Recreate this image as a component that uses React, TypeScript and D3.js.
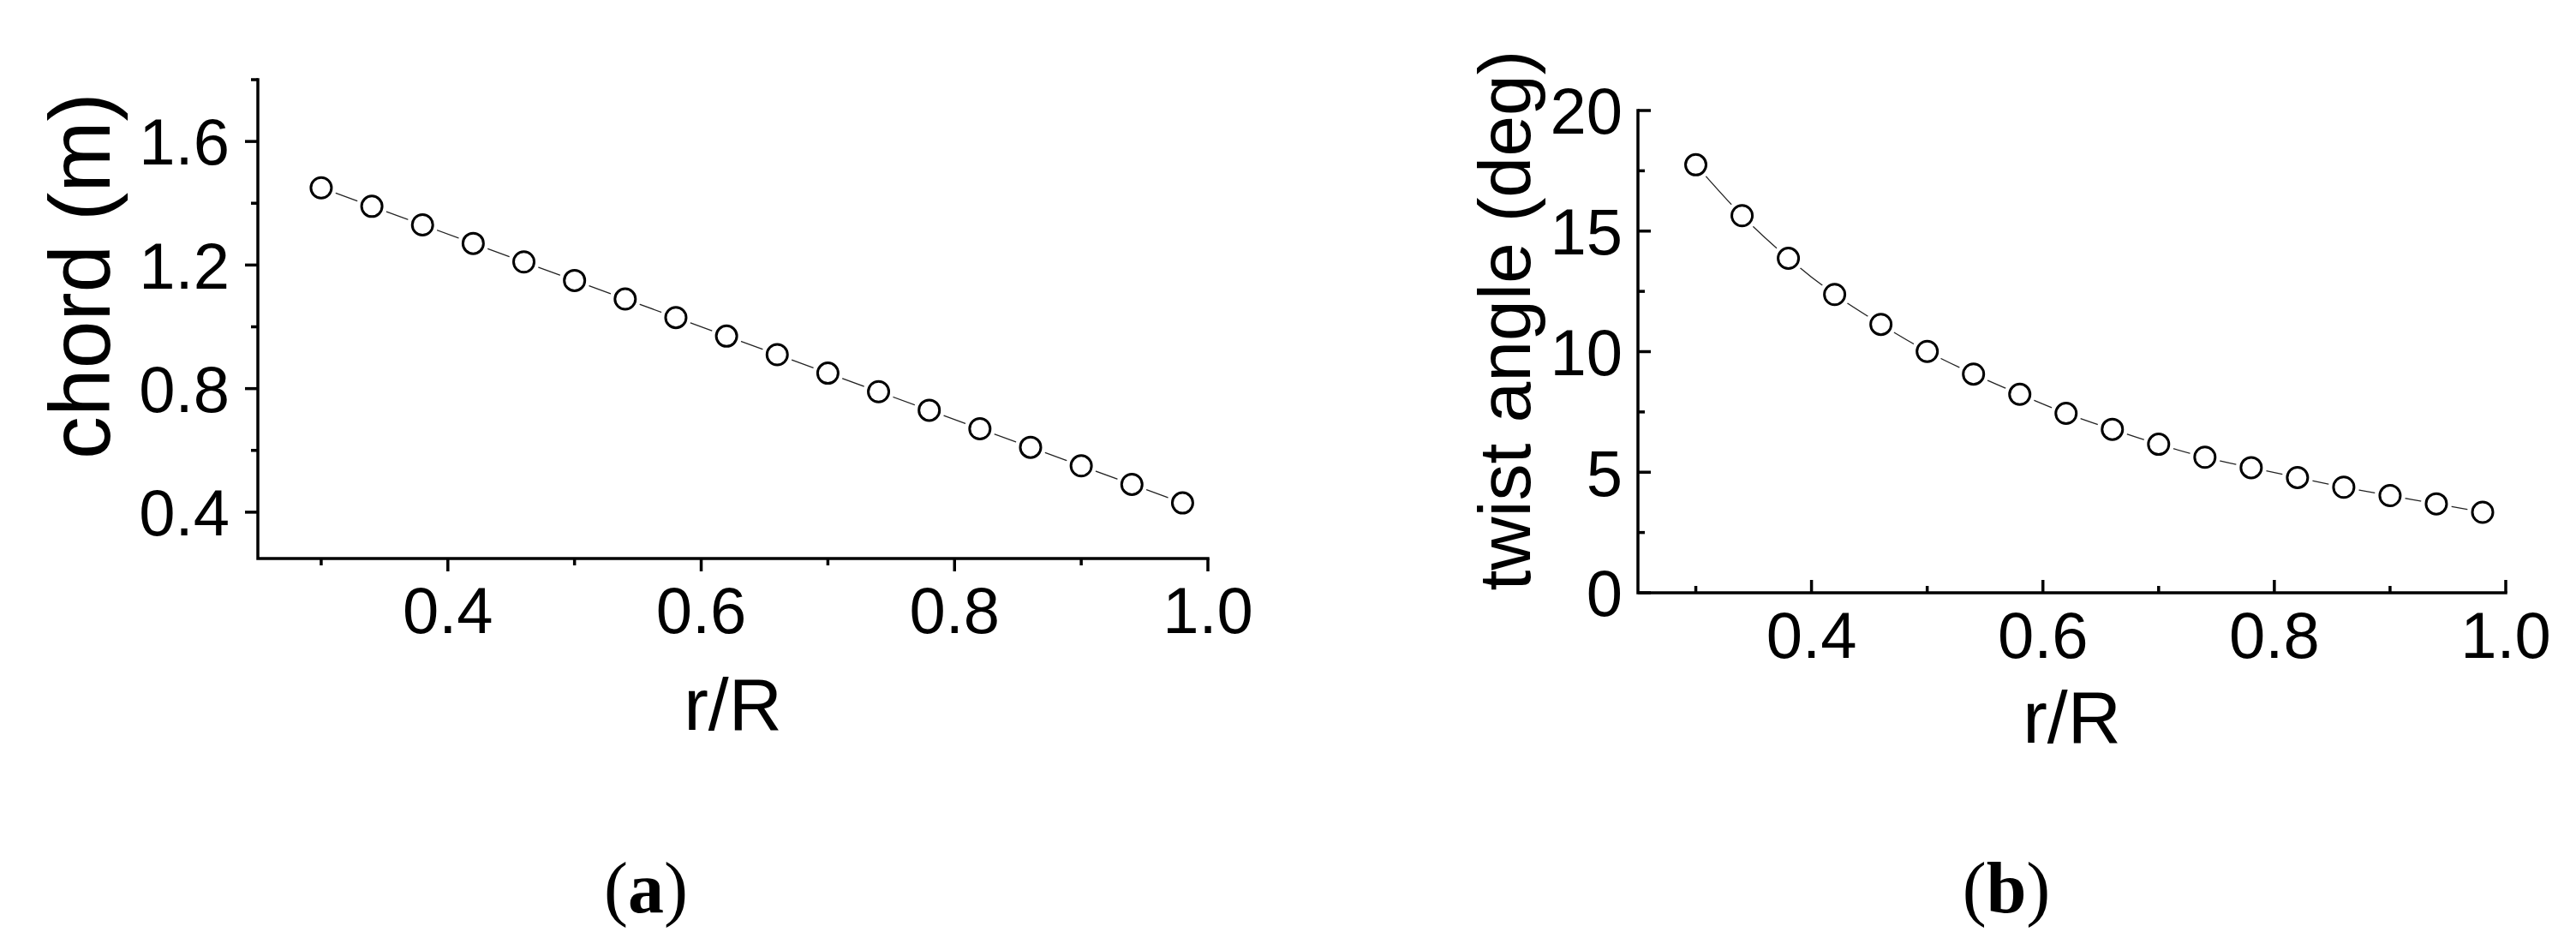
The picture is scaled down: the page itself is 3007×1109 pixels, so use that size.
import { useEffect, useRef } from "react";
import * as d3 from "d3";

// r/R stations shared by both panels
const radius = [0.3, 0.34, 0.38, 0.42, 0.46, 0.5, 0.54, 0.58, 0.62, 0.66, 0.7, 0.74, 0.78, 0.82, 0.86, 0.9, 0.94, 0.98];
const chord = [1.45, 1.39, 1.33, 1.27, 1.21, 1.15, 1.09, 1.03, 0.97, 0.91, 0.85, 0.79, 0.73, 0.67, 0.61, 0.55, 0.49, 0.43];
const twist = [17.75, 15.64, 13.87, 12.37, 11.13, 10.01, 9.07, 8.23, 7.44, 6.78, 6.16, 5.62, 5.19, 4.78, 4.38, 4.03, 3.69, 3.34];

const xMajor = [0.4, 0.6, 0.8, 1.0];
const xMinor = [0.3, 0.5, 0.7, 0.9];
const chordMajor = [0.4, 0.8, 1.2, 1.6];
const chordMinor = [0.6, 1.0, 1.4, 1.8];
const twistMajor = [0, 5, 10, 15, 20];
const twistMinor = [2.5, 7.5, 12.5, 17.5];

const W = 3007;
const H = 1109;
const SANS = "'Liberation Sans', Arial, sans-serif";
const SERIF = "'Liberation Serif', 'Times New Roman', serif";

type Panel = {
  values: number[];
  left: number; right: number; top: number; bottom: number;
  xDomain: [number, number]; yDomain: [number, number];
  yMajor: number[]; yMinor: number[];
  yFormat: (d: number) => string;
  dir: number; // -1 outward ticks, 1 inward
  yTitle: string; yTitleX: number; yTitleY: number; yTitleSize: number;
  xTitleY: number; xLabelBase: number; yLabelRight: number;
  caption: string; captionX: number;
  curve: d3.CurveFactory;
};

const panels: Panel[] = [
  {
    values: chord,
    left: 301, right: 1410, top: 93, bottom: 652,
    xDomain: [0.25, 1.0], yDomain: [0.25, 1.8],
    yMajor: chordMajor, yMinor: chordMinor,
    yFormat: d3.format(".1f"),
    dir: -1,
    yTitle: "chord (m)", yTitleX: 128, yTitleY: 322, yTitleSize: 100,
    xTitleY: 852, xLabelBase: 739, yLabelRight: 268,
    caption: "a", captionX: 754,
    curve: d3.curveLinear,
  },
  {
    values: twist,
    left: 1912, right: 2925, top: 129, bottom: 692,
    xDomain: [0.25, 1.0], yDomain: [0, 20],
    yMajor: twistMajor, yMinor: twistMinor,
    yFormat: d3.format("d"),
    dir: 1,
    yTitle: "twist angle (deg)", yTitleX: 1786, yTitleY: 374, yTitleSize: 86,
    xTitleY: 867, xLabelBase: 768, yLabelRight: 1894,
    caption: "b", captionX: 2342,
    curve: d3.curveMonotoneX,
  },
];

function App() {
  const svgRef = useRef<SVGSVGElement>(null);

  useEffect(() => {
    const svg = d3.select(svgRef.current);
    svg.selectAll("*").remove();

    svg.append("rect").attr("width", W).attr("height", H).attr("fill", "white");

    panels.forEach((p) => {
      const g = svg.append("g");
      const x = d3.scaleLinear().domain(p.xDomain).range([p.left, p.right]);
      const y = d3.scaleLinear().domain(p.yDomain).range([p.bottom, p.top]);
      const majorLen = 15;
      const minorLen = 8;

      // ticks (drawn before axes so the axis line sits on top)
      const tickStroke = 3.5;
      xMajor.concat(xMinor).forEach((v) => {
        const len = xMajor.includes(v) ? majorLen : minorLen;
        g.append("line")
          .attr("x1", x(v)).attr("x2", x(v))
          .attr("y1", p.bottom).attr("y2", p.bottom - p.dir * len)
          .attr("stroke", "black").attr("stroke-width", tickStroke);
      });
      p.yMajor.concat(p.yMinor).forEach((v) => {
        const len = p.yMajor.includes(v) ? majorLen : minorLen;
        g.append("line")
          .attr("y1", y(v)).attr("y2", y(v))
          .attr("x1", p.left).attr("x2", p.left + p.dir * len)
          .attr("stroke", "black").attr("stroke-width", tickStroke);
      });

      // axis lines
      g.append("path")
        .attr("d", `M${p.left},${p.top}V${p.bottom}H${p.right}`)
        .attr("fill", "none")
        .attr("stroke", "black")
        .attr("stroke-width", 3.5)
        .attr("stroke-linecap", "square");

      // tick labels
      g.selectAll(".xl")
        .data(xMajor)
        .enter()
        .append("text")
        .attr("x", (d) => x(d))
        .attr("y", p.xLabelBase)
        .attr("text-anchor", "middle")
        .style("font-family", SANS)
        .style("font-size", "76px")
        .text((d) => d3.format(".1f")(d));

      g.selectAll(".yl")
        .data(p.yMajor)
        .enter()
        .append("text")
        .attr("x", p.yLabelRight)
        .attr("y", (d) => y(d))
        .attr("dy", "0.36em")
        .attr("text-anchor", "end")
        .style("font-family", SANS)
        .style("font-size", "76px")
        .text((d) => p.yFormat(d));

      // axis titles
      g.append("text")
        .attr("x", (p.left + p.right) / 2)
        .attr("y", p.xTitleY)
        .attr("text-anchor", "middle")
        .style("font-family", SANS)
        .style("font-size", "86px")
        .text("r/R");

      g.append("text")
        .attr("transform", `translate(${p.yTitleX},${p.yTitleY}) rotate(-90)`)
        .attr("text-anchor", "middle")
        .style("font-family", SANS)
        .style("font-size", `${p.yTitleSize}px`)
        .text(p.yTitle);

      // data line, with a white halo under each symbol to leave a gap
      const pts = radius.map((r, i) => [r, p.values[i]] as [number, number]);
      const line = d3.line<[number, number]>()
        .x((d) => x(d[0]))
        .y((d) => y(d[1]))
        .curve(p.curve);

      g.append("path")
        .attr("d", line(pts))
        .attr("fill", "none")
        .attr("stroke", "#222")
        .attr("stroke-width", 1.3);

      g.selectAll(".halo")
        .data(pts)
        .enter()
        .append("circle")
        .attr("cx", (d) => x(d[0]))
        .attr("cy", (d) => y(d[1]))
        .attr("r", 18)
        .attr("fill", "white");

      g.selectAll(".pt")
        .data(pts)
        .enter()
        .append("circle")
        .attr("cx", (d) => x(d[0]))
        .attr("cy", (d) => y(d[1]))
        .attr("r", 12)
        .attr("fill", "white")
        .attr("stroke", "black")
        .attr("stroke-width", 3);

      // panel caption
      const cap = g.append("text")
        .attr("x", p.captionX)
        .attr("y", 1065)
        .attr("text-anchor", "middle")
        .style("font-family", SERIF)
        .style("font-size", "84px");
      cap.append("tspan").text("(");
      cap.append("tspan").style("font-weight", "bold").text(p.caption);
      cap.append("tspan").text(")");
    });
  }, []);

  return (
    <svg
      ref={svgRef}
      width={W}
      height={H}
      style={{ position: "absolute", left: 0, top: 0, display: "block" }}
    />
  );
}

export default App;
